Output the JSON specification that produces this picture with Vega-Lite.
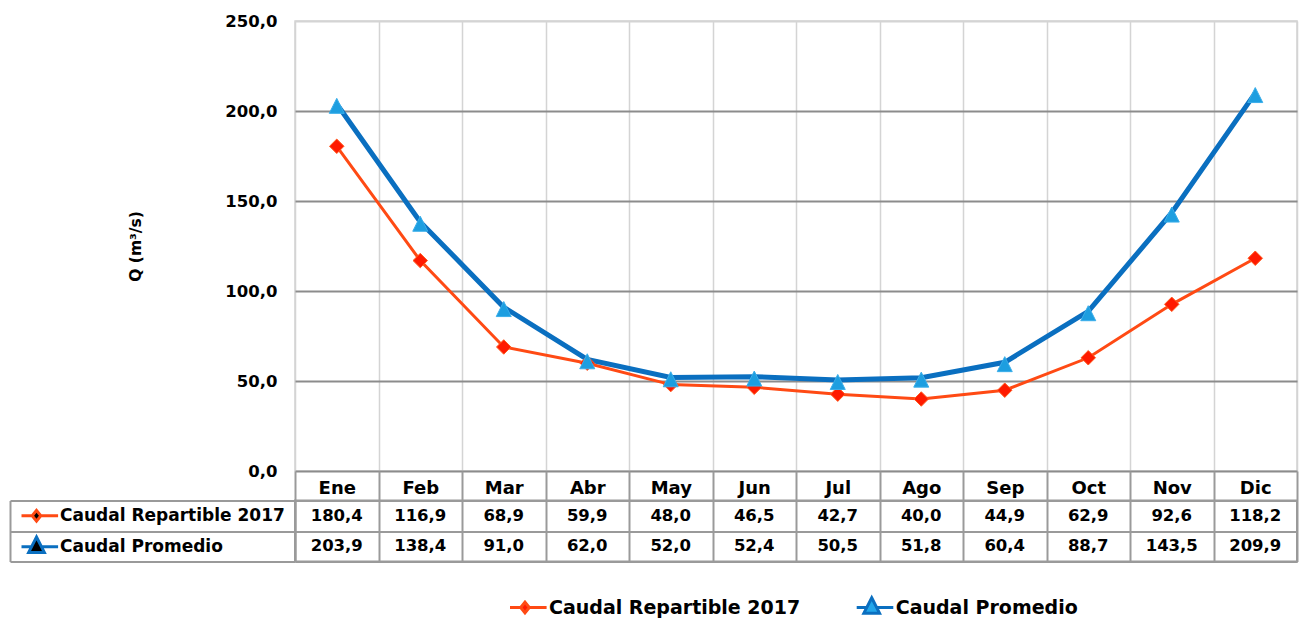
{
  "$schema": "https://vega.github.io/schema/vega-lite/v6.json",
  "background": "white",
  "padding": {"left": 8, "top": 12, "right": 2, "bottom": 0},
  "config": {
    "locale": {"number": {"decimal": ",", "thousands": ".", "grouping": [3], "currency": ["", " €"]}}
  },
  "datasets": {
    "q": [
      {"month": "Ene", "series": "Caudal Repartible 2017", "value": 180.4},
      {"month": "Feb", "series": "Caudal Repartible 2017", "value": 116.9},
      {"month": "Mar", "series": "Caudal Repartible 2017", "value": 68.9},
      {"month": "Abr", "series": "Caudal Repartible 2017", "value": 59.9},
      {"month": "May", "series": "Caudal Repartible 2017", "value": 48.0},
      {"month": "Jun", "series": "Caudal Repartible 2017", "value": 46.5},
      {"month": "Jul", "series": "Caudal Repartible 2017", "value": 42.7},
      {"month": "Ago", "series": "Caudal Repartible 2017", "value": 40.0},
      {"month": "Sep", "series": "Caudal Repartible 2017", "value": 44.9},
      {"month": "Oct", "series": "Caudal Repartible 2017", "value": 62.9},
      {"month": "Nov", "series": "Caudal Repartible 2017", "value": 92.6},
      {"month": "Dic", "series": "Caudal Repartible 2017", "value": 118.2},
      {"month": "Ene", "series": "Caudal Promedio", "value": 203.9},
      {"month": "Feb", "series": "Caudal Promedio", "value": 138.4},
      {"month": "Mar", "series": "Caudal Promedio", "value": 91.0},
      {"month": "Abr", "series": "Caudal Promedio", "value": 62.0},
      {"month": "May", "series": "Caudal Promedio", "value": 52.0},
      {"month": "Jun", "series": "Caudal Promedio", "value": 52.4},
      {"month": "Jul", "series": "Caudal Promedio", "value": 50.5},
      {"month": "Ago", "series": "Caudal Promedio", "value": 51.8},
      {"month": "Sep", "series": "Caudal Promedio", "value": 60.4},
      {"month": "Oct", "series": "Caudal Promedio", "value": 88.7},
      {"month": "Nov", "series": "Caudal Promedio", "value": 143.5},
      {"month": "Dic", "series": "Caudal Promedio", "value": 209.9}
    ]
  },
  "bounds": "flush",
  "spacing": 29.5,
  "resolve": {"scale": {"color": "independent"}, "legend": {"color": "independent"}},
  "vconcat": [
    {
      "width": 1002,
      "height": 450,
      "view": {"stroke": "#d4d4d4", "strokeWidth": 1.5},
      "data": {"name": "q"},
      "encoding": {
        "x": {
          "field": "month", "type": "nominal",
          "sort": ["Ene","Feb","Mar","Abr","May","Jun","Jul","Ago","Sep","Oct","Nov","Dic"],
          "scale": {"paddingInner": 0, "paddingOuter": 0},
          "axis": {"title": null, "labels": false, "ticks": false, "domain": false, "grid": true, "tickBand": "extent", "gridColor": "#d4d4d4", "gridWidth": 1.5}
        },
        "y": {
          "field": "value", "type": "quantitative",
          "scale": {"domain": [0, 250], "nice": false},
          "axis": {
            "values": [0, 50, 100, 150, 200, 250], "format": ".1f",
            "labelFont": "DejaVu Sans", "labelFontWeight": "bold", "labelFontSize": 16.5, "labelColor": "#000000", "labelPadding": 18,
            "ticks": false, "domain": false, "grid": true,
            "gridColor": {"condition": {"test": "datum.value === 250", "value": "#d4d4d4"}, "value": "#8c8c8c"},
            "gridWidth": 2,
            "title": "Q (m³/s)", "titleFont": "DejaVu Sans", "titleFontWeight": "bold", "titleFontSize": 15.5, "titleColor": "#000000", "titlePadding": 81
          }
        }
      },
      "layer": [
        {
          "transform": [{"filter": "datum.series === 'Caudal Repartible 2017'"}],
          "mark": {"type": "line", "strokeWidth": 3},
          "encoding": {
            "color": {
              "field": "series", "type": "nominal",
              "scale": {"domain": ["Caudal Repartible 2017", "Caudal Promedio"], "range": ["#ff4a14", "#0a6fc0"]},
              "legend": {
                "orient": "none", "legendX": 215, "legendY": 571, "direction": "horizontal", "title": null, "padding": 0,
                "symbolSize": 729, "symbolStrokeWidth": 3, "labelOffset": 9, "columnPadding": 55.7, "clipHeight": 30.5,
                "labelFont": "DejaVu Sans", "labelFontWeight": "bold", "labelFontSize": 19, "labelColor": "#000000", "labelLimit": 400,
                "encode": {"symbols": {"update": {
                  "shape": {"signal": "datum.value === 'Caudal Promedio' ? 'M-1.6,0H-0.34M0.34,0H1.6M0,-0.72L0.58,0.42L-0.58,0.42Z' : 'M-1.6,0H-0.3M0.3,0H1.6M0,-0.4L0.32,0L0,0.4L-0.32,0Z'"},
                  "fill": {"signal": "datum.value === 'Caudal Promedio' ? '#22a6ea' : '#ff1a00'"},
                  "stroke": {"signal": "datum.value === 'Caudal Promedio' ? '#0a6fc0' : '#ff4a14'"},
                  "strokeWidth": {"value": 3},
                  "opacity": {"value": 1},
                  "fillOpacity": {"value": 1}
                }}}
              }
            }
          }
        },
        {
          "transform": [{"filter": "datum.series === 'Caudal Promedio'"}],
          "mark": {"type": "line", "strokeWidth": 5},
          "encoding": {
            "color": {
              "field": "series", "type": "nominal",
              "scale": {"domain": ["Caudal Repartible 2017", "Caudal Promedio"], "range": ["#ff4a14", "#0a6fc0"]}
            }
          }
        },
        {
          "transform": [{"filter": "datum.series === 'Caudal Repartible 2017'"}],
          "mark": {"type": "point", "shape": "diamond", "size": 210, "filled": true, "fill": "#ff1a00", "stroke": "#ff5a1f", "strokeWidth": 1, "opacity": 1}
        },
        {
          "transform": [{"filter": "datum.series === 'Caudal Promedio'"}],
          "mark": {"type": "point", "shape": "M0,-0.75L1,1.25L-1,1.25Z", "size": 225, "filled": true, "fill": "#1d9ee0", "stroke": "#3aaeea", "strokeWidth": 1, "opacity": 1}
        }
      ]
    },
    {
      "width": 1002,
      "height": 61,
      "view": {"stroke": "#9a9a9a", "strokeWidth": 2},
      "data": {"name": "q"},
      "encoding": {
        "x": {
          "field": "month", "type": "nominal",
          "sort": ["Ene","Feb","Mar","Abr","May","Jun","Jul","Ago","Sep","Oct","Nov","Dic"],
          "scale": {"paddingInner": 0, "paddingOuter": 0},
          "axis": {
            "orient": "top", "title": null, "labelAngle": 0,
            "labelFont": "DejaVu Sans", "labelFontWeight": "bold", "labelFontSize": 18, "labelColor": "#000000",
            "labelBaseline": "alphabetic", "labelPadding": -22,
            "ticks": true, "tickSize": 29.5, "tickBand": "extent", "tickColor": "#9a9a9a", "tickWidth": 2,
            "domain": true, "domainColor": "#9a9a9a", "domainWidth": 2,
            "grid": true, "gridColor": "#9a9a9a", "gridWidth": 2
          }
        }
      },
      "layer": [
        {
          "mark": {"type": "text", "font": "DejaVu Sans", "fontWeight": "bold", "fontSize": 16.5},
          "encoding": {
            "y": {
              "field": "series", "type": "nominal",
              "sort": ["Caudal Repartible 2017", "Caudal Promedio"],
              "scale": {"paddingInner": 0, "paddingOuter": 0},
              "axis": {
                "orient": "left", "title": null, "labels": false,
                "ticks": true, "tickSize": 285, "tickBand": "extent", "tickColor": "#9a9a9a", "tickWidth": 2,
                "domain": true, "domainColor": "#9a9a9a", "domainWidth": 2,
                "grid": true, "gridColor": "#9a9a9a", "gridWidth": 2
              }
            },
            "text": {"field": "value", "type": "quantitative", "format": ".1f"},
            "color": {
              "field": "series", "type": "nominal",
              "scale": {"domain": ["Caudal Repartible 2017", "Caudal Promedio"], "range": ["#000000", "#000000"]},
              "legend": {
                "orient": "none", "legendX": -273.5, "legendY": 0, "direction": "vertical", "title": null, "padding": 0,
                "symbolSize": 729, "symbolStrokeWidth": 3, "labelOffset": 8.5, "rowPadding": 0, "clipHeight": 30.5,
                "labelFont": "DejaVu Sans", "labelFontWeight": "bold", "labelFontSize": 17, "labelColor": "#000000", "labelLimit": 400,
                "encode": {"symbols": {"update": {
                  "shape": {"signal": "datum.value === 'Caudal Promedio' ? 'M-1.6,0H-0.34M0.34,0H1.6M0,-0.72L0.58,0.42L-0.58,0.42Z' : 'M-1.6,0H-0.3M0.3,0H1.6M0,-0.4L0.32,0L0,0.4L-0.32,0Z'"},
                  "fill": {"signal": "datum.value === 'Caudal Promedio' ? '#22a6ea' : '#ff1a00'"},
                  "stroke": {"signal": "datum.value === 'Caudal Promedio' ? '#0a6fc0' : '#ff4a14'"},
                  "strokeWidth": {"value": 3},
                  "opacity": {"value": 1},
                  "fillOpacity": {"value": 1}
                }}}
              }
            }
          }
        },
        {
          "mark": {"type": "text", "opacity": 0, "fontSize": 16.5},
          "encoding": {
            "y": {
              "field": "series", "type": "nominal",
              "sort": ["Caudal Repartible 2017", "Caudal Promedio"],
              "axis": {
                "orient": "left", "offset": 285, "title": null, "labels": false, "ticks": false, "grid": false,
                "domain": true, "domainColor": "#9a9a9a", "domainWidth": 2
              }
            },
            "text": {"field": "value", "type": "quantitative", "format": ".1f"}
          }
        }
      ],
      "resolve": {"axis": {"y": "independent"}}
    }
  ]
}
